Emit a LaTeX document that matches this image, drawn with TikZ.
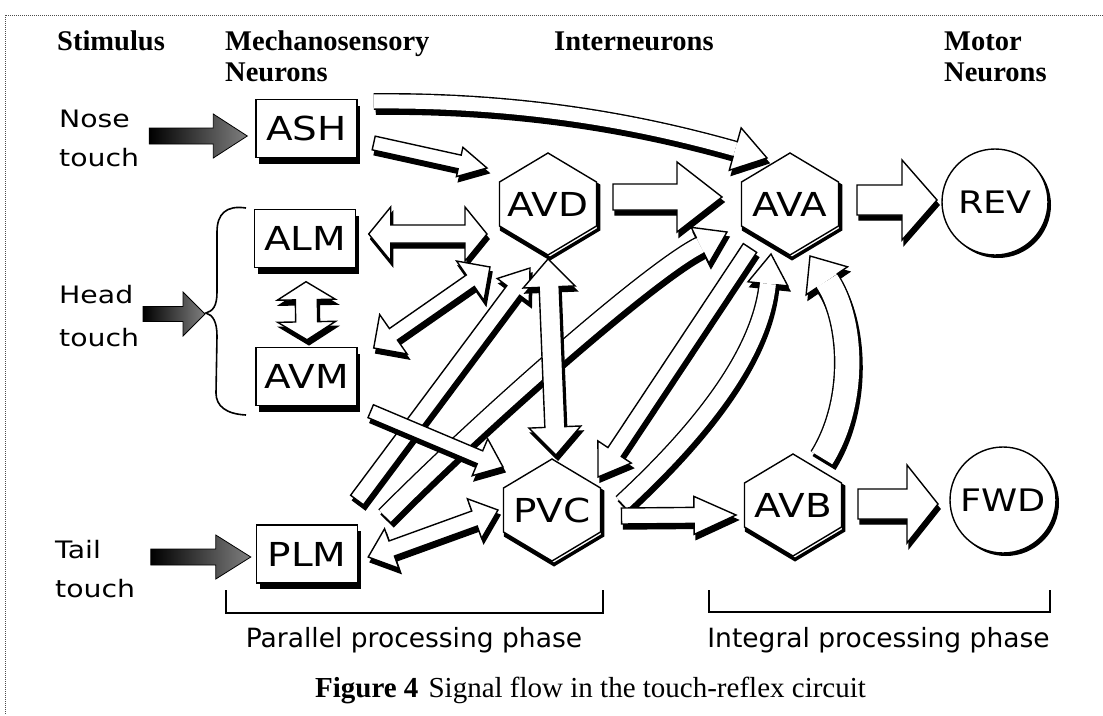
\documentclass[tikz,border=0pt]{standalone}
\usepackage{fontspec}
\setmainfont{Liberation Serif}
\newfontfamily\lblfont[FakeStretch=1.18]{DejaVu Sans}
\newfontfamily\phfont{DejaVu Sans}
\usetikzlibrary{calc,shadows}

\tikzset{
  arrbody/.style={fill=white, draw=black, line width=1.4pt, line join=miter},
  arrshadow/.style={fill=black, draw=black, line width=1.4pt, line join=miter, transform canvas={xshift=2pt,yshift=-5pt}},
  stimstyle/.style={draw=black, line width=0.8pt, left color=black, right color=black!50},
  nbox/.style={draw, line width=1.4pt, fill=white, minimum width=101pt, minimum height=58pt, inner sep=0pt,
    font=\lblfont\fontsize{33}{36}\selectfont,
    drop shadow={shadow xshift=3pt, shadow yshift=-6pt, fill=black, opacity=1}},
  hexlbl/.style={inner sep=0pt, font=\lblfont\fontsize{33}{36}\selectfont},
  hexline/.style={draw=black, fill=white, line width=1.4pt, line join=miter},
  hexshadow/.style={draw=black, line width=3.5pt, line join=miter, transform canvas={xshift=2pt,yshift=-3.5pt}},
  cnode/.style={circle, draw, line width=1.4pt, fill=white, minimum size=106pt, inner sep=0pt,
    font=\lblfont\fontsize{31}{34}\selectfont,
    drop shadow={shadow xshift=3pt, shadow yshift=-3pt, fill=black, opacity=1}},
  ttl/.style={font=\bfseries\fontsize{28.5}{30}\selectfont, inner sep=0pt, anchor=base west},
  side/.style={font=\lblfont\fontsize{24}{26}\selectfont, inner sep=0pt, anchor=base west},
  phase/.style={font=\phfont\fontsize{26.5}{28}\selectfont, inner sep=0pt, anchor=base},
  brk/.style={line width=1.2pt},
  frame/.style={densely dotted, line width=1pt, black!70},
}

% single block arrow: start, end, half shaft, half head, head length
\newcommand\sarrow[5]{%
  \coordinate (tq) at ($(#2)!#5pt!(#1)$);
  \foreach \st in {arrshadow,arrbody}{%
    \path[\st] ($(#1)!#3pt!90:(#2)$) -- ($(tq)!#3pt!-90:(#1)$) -- ($(tq)!#4pt!-90:(#1)$) -- (#2)
      -- ($(tq)!#4pt!90:(#1)$) -- ($(tq)!#3pt!90:(#1)$) -- ($(#1)!#3pt!-90:(#2)$) -- cycle;
  }}
% stimulus arrow (dark)
\newcommand\stimarrow[5]{%
  \coordinate (tq) at ($(#2)!#5pt!(#1)$);
  \path[stimstyle] ($(#1)!#3pt!90:(#2)$) -- ($(tq)!#3pt!-90:(#1)$) -- ($(tq)!#4pt!-90:(#1)$) -- (#2)
      -- ($(tq)!#4pt!90:(#1)$) -- ($(tq)!#3pt!90:(#1)$) -- ($(#1)!#3pt!-90:(#2)$) -- cycle;}
% double block arrow
\newcommand\darrow[5]{%
  \coordinate (tqa) at ($(#1)!#5pt!(#2)$);
  \coordinate (tqb) at ($(#2)!#5pt!(#1)$);
  \foreach \st in {arrshadow,arrbody}{%
    \path[\st] (#1) -- ($(tqa)!#4pt!90:(#2)$) -- ($(tqa)!#3pt!90:(#2)$) -- ($(tqb)!#3pt!-90:(#1)$)
      -- ($(tqb)!#4pt!-90:(#1)$) -- (#2) -- ($(tqb)!#4pt!90:(#1)$) -- ($(tqb)!#3pt!90:(#1)$)
      -- ($(tqa)!#3pt!-90:(#2)$) -- ($(tqa)!#4pt!-90:(#2)$) -- cycle;
  }}
% curved block arrow: A, C1, C2, tip, half shaft, half head, head length
\newcommand\carrow[7]{%
  \coordinate (tq) at ($(#4)!#7pt!(#3)$);
  \begin{scope}[transform canvas={xshift=2pt,yshift=-5pt}]
    \draw[black, line width={2*#5pt+2.8pt}] (#1) .. controls (#2) and (#3) .. (tq);
    \filldraw[black, line width=1.4pt] ($(tq)!#6pt!90:(#4)$) -- (#4) -- ($(tq)!#6pt!-90:(#4)$) -- cycle;
  \end{scope}
  \draw[black, line width={2*#5pt+2.8pt}] (#1) .. controls (#2) and (#3) .. (tq);
  \draw[white, line width={2*#5pt}] (#1) .. controls (#2) and (#3) .. (tq);
  \fill[white] ($(tq)!#6pt!90:(#4)$) -- (#4) -- ($(tq)!#6pt!-90:(#4)$) -- cycle;
  \draw[black, line width=1.4pt, line join=miter] ($(tq)!#5pt!90:(#4)$) -- ($(tq)!#6pt!90:(#4)$) -- (#4)
    -- ($(tq)!#6pt!-90:(#4)$) -- ($(tq)!#5pt!-90:(#4)$);
}
% hexagon node
\newcommand\hexat[3]{%
  \coordinate (#1c) at (#2);
  \path[hexshadow] (#1c) +(0,-51) -- +(48.5,-22) -- +(48.5,22) -- +(0,51) -- +(-48.5,22) -- +(-48.5,-22) -- cycle;
  \path[hexline] (#1c) +(0,-51) -- +(48.5,-22) -- +(48.5,22) -- +(0,51) -- +(-48.5,22) -- +(-48.5,-22) -- cycle;
  \node[hexlbl] (#1) at (#1c) {#3};
}

\begin{document}
\begin{tikzpicture}[x=1pt,y=-1pt]
\useasboundingbox (0,0) rectangle (1103,715);
\fill[white] (0,0) rectangle (1103,715);
\draw[frame] (1103,15) -- (5,15) -- (5,715);

% column titles
\node[ttl] (tStim) at (57,50) {Stimulus};
\node[ttl] (tMech1) at (225,50) {Mechanosensory};
\node[ttl] (tMech2) at (225,81) {Neurons};
\node[ttl] (tInter) at (554,50) {Interneurons};
\node[ttl] (tMot1) at (944,50) {Motor};
\node[ttl] (tMot2) at (944,81) {Neurons};

% stimulus labels
\node[side] (nose) at (59,127) {Nose};
\node[side] (nosetouch) at (59,166) {touch};
\node[side] (head) at (59,303) {Head};
\node[side] (headtouch) at (59,346) {touch};
\node[side] (tail) at (55,558) {Tail};
\node[side] (tailtouch) at (55,597) {touch};

% sensory boxes
\node[nbox] (ASH) at (306.5,128.5) {ASH};
\node[nbox] (ALM) at (305,238.5) {ALM};
\node[nbox] (AVM) at (306.5,376.5) {AVM};
\node[nbox] (PLM) at (307,554) {PLM};

% interneurons
\hexat{AVD}{548,204}{AVD}
\hexat{AVA}{790,204}{AVA}
\hexat{PVC}{552,510}{PVC}
\hexat{AVB}{793,505}{AVB}

% motor outputs
\node[cnode] (REV) at (995,202) {REV};
\node[cnode] (FWD) at (1003,500) {FWD};

% brace for head touch
\coordinate (cusp) at (206,313);
\draw[line width=1.6pt] (246,208) .. controls (226,205) and (217,214) .. (217,232) -- (217,292)
  .. controls (217,306) and (213,311) .. (cusp) .. controls (213,315) and (217,322) .. (217,336)
  -- (216,393) .. controls (216,406) and (226,414) .. (246,415);

% stimulus arrows
\coordinate (nA) at ($(ASH.west)+(-106,7.5)$);
\coordinate (nB) at ($(ASH.west)+(-8,7.5)$);
\stimarrow{nA}{nB}{8}{22}{34}
\coordinate (hA) at ($(cusp)+(-63,1)$);
\coordinate (hB) at ($(cusp)+(-1,1)$);
\stimarrow{hA}{hB}{7.5}{22}{22}
\coordinate (tA) at ($(PLM.west)+(-105,3)$);
\coordinate (tB) at ($(PLM.west)+(-5,3)$);
\stimarrow{tA}{tB}{8}{22}{35}

% ---- block arrows ----
% ASH -> AVA (curved)
\coordinate (a1) at ($(ASH.east)+(16,-27)$);
\coordinate (a1b) at ($(AVA)+(-23,-46)$);
\carrow{a1}{540,100}{660,128}{a1b}{7}{22}{33}
% ASH -> AVD
\coordinate (a2) at ($(ASH.east)+(16,14.5)$);
\coordinate (a2b) at ($(AVD)+(-61,-36)$);
\sarrow{a2}{a2b}{7}{15}{28}
% ALM <-> AVD
\coordinate (a3) at ($(ALM.east)+(12.5,-4.5)$);
\coordinate (a3b) at ($(AVD)+(-61,30)$);
\darrow{a3}{a3b}{9}{27}{22}
% ALM <-> AVM
\coordinate (a4) at ($(ALM.south)+(1,13.5)$);
\coordinate (a4b) at ($(AVM.north)+(0.5,-7)$);
\darrow{a4}{a4b}{11}{29}{18}
% AVM <-> AVD
\coordinate (a5) at ($(AVM.east)+(16,-28.5)$);
\coordinate (a5b) at ($(AVD)+(-58,63)$);
\darrow{a5}{a5b}{7}{24}{24}
% PLM -> AVA (curved)
\coordinate (a8) at ($(PLM)+(78,-38)$);
\coordinate (a8b) at ($(AVA)+(-63,28)$);
\carrow{a8}{480,420}{650,270}{a8b}{8}{20}{30}
% PVC -> AVA (curved)
\coordinate (a14) at ($(PVC)+(70,-7)$);
\coordinate (a14b) at ($(AVA)+(-19,50)$);
\carrow{a14}{690,440}{760,360}{a14b}{8}{20}{30}
% AVA -> PVC
\coordinate (a13) at ($(AVA)+(-40,44)$);
\coordinate (a13b) at ($(PVC)+(46,-33)$);
\sarrow{a13}{a13b}{8}{20}{30}
% PLM -> AVD
\coordinate (a7) at ($(PLM)+(50,-54)$);
\coordinate (a7b) at ($(AVD)+(-18,64)$);
\sarrow{a7}{a7b}{8}{20}{28}
% AVD <-> PVC
\coordinate (a10) at ($(AVD)+(0,55)$);
\coordinate (a10b) at ($(PVC)+(4,-55)$);
\darrow{a10}{a10b}{10}{26}{28}
% AVM -> PVC
\coordinate (a6) at ($(AVM.south east)+(13,5)$);
\coordinate (a6b) at ($(PVC)+(-49,-43)$);
\sarrow{a6}{a6b}{7}{20}{25}
% PLM <-> PVC
\coordinate (a9) at ($(PLM.east)+(10,3)$);
\coordinate (a9b) at ($(PVC)+(-54,0)$);
\darrow{a9}{a9b}{8}{21}{25}
% AVD -> AVA
\coordinate (a11) at ($(AVD)+(65,-7)$);
\coordinate (a11b) at ($(AVA)+(-68,-7)$);
\sarrow{a11}{a11b}{13}{35}{45}
% AVA -> REV
\coordinate (a12) at ($(AVA)+(67,-4)$);
\coordinate (a12b) at ($(REV)+(-58,-2)$);
\sarrow{a12}{a12b}{15}{40}{35}
% PVC -> AVB
\coordinate (a15) at ($(PVC)+(69.5,6)$);
\coordinate (a15b) at ($(AVB)+(-57,10)$);
\sarrow{a15}{a15b}{8}{19}{42}
% AVB -> AVA (curved)
\coordinate (a16) at ($(AVB)+(29,-47)$);
\coordinate (a16b) at ($(AVA)+(20,52)$);
\carrow{a16}{858,400}{852,318}{a16b}{12}{25}{30}
% AVB -> FWD
\coordinate (a17) at ($(AVB)+(65,-1)$);
\coordinate (a17b) at ($(FWD)+(-65,4)$);
\sarrow{a17}{a17b}{15}{39}{31}

% phase brackets
\draw[brk] (226,590) -- (226,613) -- (603,613) -- (603,590);
\draw[brk] (709,590) -- (709,612) -- (1050,612) -- (1050,590);
\node[phase] (par) at (414,647) {Parallel processing phase};
\node[phase] (int) at (878.5,647) {Integral processing phase};

% caption
\node[anchor=base, inner sep=0pt, font=\fontsize{29}{31}\selectfont] (caption) at (590.5,697)
  {\textbf{Figure 4}\hspace{0.35em}Signal flow in the touch-reflex circuit};
\end{tikzpicture}
\end{document}
